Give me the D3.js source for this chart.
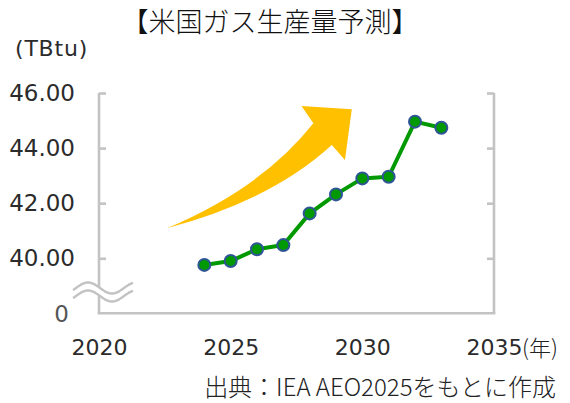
<!DOCTYPE html>
<html><head><meta charset="utf-8">
<script src="https://cdn.jsdelivr.net/npm/d3@7/dist/d3.min.js"></script>
<style>
html,body{margin:0;padding:0;background:#fff;}
svg{display:block;}
</style></head>
<body>
<script>
const years = [2024, 2025, 2026, 2027, 2028, 2029, 2030, 2031, 2032, 2033];
const production = [39.76, 39.90, 40.33, 40.48, 41.63, 42.32, 42.90, 42.96, 44.96, 44.74];
const yTicks = [40, 42, 44, 46];
const xTicks = [2020, 2025, 2030, 2035];
const title = "【米国ガス生産量予測】";
const unitLabel = "(TBtu)";
const yearUnit = "(年)";
const sourceText = "出典：IEA AEO2025をもとに作成";
// decorative arrow outline in data coordinates [year, value]
const arrowTail = [2022.57, 41.09];
const arrowUpperCtrl = [2026.20, 42.55];
const arrowUpperEnd = [2028.14, 44.90];
const arrowBarbL = [2027.69, 45.53];
const arrowTip = [2029.60, 45.41];
const arrowBarbR = [2029.34, 43.57];
const arrowInner = [2028.84, 44.11];
const arrowLowerCtrl = [2026.55, 42.10];

const W = 570, H = 403;
const svg = d3.select("body").append("svg").attr("width", W).attr("height", H);

const x = d3.scaleLinear().domain([2020, 2035]).range([99, 494]);
const y = d3.scaleLinear().domain([40, 46]).range([258.3, 93]);
const yZero = 313.3;
const axisColor = "#c3c3c3";
const textColor = "#2b2b2b";
const latin = "'DejaVu Sans', Verdana, sans-serif";
const cjk = "'Noto Sans CJK JP', sans-serif";

// title
svg.append("text").attr("x", 270).attr("y", 32).attr("text-anchor", "middle")
  .style("font-family", cjk).style("font-size", "27px").style("font-weight", 300).attr("fill", "#111").text(title);
svg.append("text").attr("x", 15).attr("y", 56)
  .style("font-family", latin).style("font-size", "22px").style("letter-spacing", "0.8px").attr("fill", textColor).text(unitLabel);

// axes frame lines
svg.append("line").attr("x1", x(2020)).attr("x2", x(2020)).attr("y1", y(46)).attr("y2", yZero)
  .attr("stroke", axisColor).attr("stroke-width", 2.6);
svg.append("line").attr("x1", x(2035)).attr("x2", x(2035)).attr("y1", y(46)).attr("y2", yZero)
  .attr("stroke", axisColor).attr("stroke-width", 2.6);
svg.append("line").attr("x1", x(2020) - 1.3).attr("x2", x(2035) + 1.3).attr("y1", yZero).attr("y2", yZero)
  .attr("stroke", axisColor).attr("stroke-width", 2.6);

// ticks (inside)
const leftTicks = svg.append("g").attr("transform", `translate(${x(2020)},0)`)
  .call(d3.axisRight(y).tickValues(yTicks).tickSize(7).tickFormat(""));
leftTicks.select(".domain").remove();
leftTicks.selectAll(".tick line").attr("stroke", axisColor).attr("stroke-width", 2.6);
const rightTicks = svg.append("g").attr("transform", `translate(${x(2035)},0)`)
  .call(d3.axisLeft(y).tickValues(yTicks).tickSize(7).tickFormat(""));
rightTicks.select(".domain").remove();
rightTicks.selectAll(".tick line").attr("stroke", axisColor).attr("stroke-width", 2.6);

// y labels
const yLab = svg.append("g").attr("transform", `translate(${x(2020)},0)`)
  .call(d3.axisLeft(y).tickValues(yTicks).tickSize(0).tickPadding(24).tickFormat(d3.format(".2f")));
yLab.select(".domain").remove();
yLab.selectAll("text").style("font-family", latin).style("font-size", "23px").attr("fill", textColor);
svg.append("text").attr("x", 69).attr("y", yZero).attr("dy", "0.36em").attr("text-anchor", "end")
  .style("font-family", latin).style("font-size", "23px").attr("fill", "#555").text("0");

// x labels
const xLab = svg.append("g").attr("transform", `translate(0,${yZero})`)
  .call(d3.axisBottom(x).tickValues(xTicks).tickSize(0).tickPadding(26).tickFormat(d3.format("d")));
xLab.select(".domain").remove();
xLab.selectAll("text").style("font-family", latin).style("font-size", "22px").attr("fill", textColor);
svg.append("text").attr("x", 522).attr("y", 356)
  .style("font-family", cjk).style("font-size", "22px").style("font-weight", 300).attr("fill", "#222").text(yearUnit);

// axis break symbol
const waveX = d3.range(73, 133.5, 1);
const wave = (dy) => waveX.map(px => [px, 288 + dy - 5.5 * Math.cos(2 * Math.PI * (px - 88) / 48)]);
const upper = wave(0), lower = wave(8);
svg.append("path").attr("d", d3.line()(upper.concat(lower.slice().reverse())) + "Z").attr("fill", "#fff");
svg.append("path").attr("d", d3.line()(upper)).attr("fill", "none").attr("stroke", axisColor).attr("stroke-width", 2.4);
svg.append("path").attr("d", d3.line()(lower)).attr("fill", "none").attr("stroke", axisColor).attr("stroke-width", 2.4);

// arrow
const P = d => [x(d[0]), y(d[1])];
const a = [arrowTail, arrowUpperCtrl, arrowUpperEnd, arrowBarbL, arrowTip, arrowBarbR, arrowInner, arrowLowerCtrl].map(P);
const ap = d3.path();
ap.moveTo(a[0][0], a[0][1]);
ap.quadraticCurveTo(a[1][0], a[1][1], a[2][0], a[2][1]);
ap.lineTo(a[3][0], a[3][1]);
ap.lineTo(a[4][0], a[4][1]);
ap.lineTo(a[5][0], a[5][1]);
ap.lineTo(a[6][0], a[6][1]);
ap.quadraticCurveTo(a[7][0], a[7][1], a[0][0], a[0][1]);
ap.closePath();
svg.append("path").attr("d", ap.toString()).attr("fill", "#FFC000");

// line + markers
const data = years.map((yr, i) => ({yr, v: production[i]}));
svg.append("path").datum(data)
  .attr("d", d3.line().x(d => x(d.yr)).y(d => y(d.v)))
  .attr("fill", "none").attr("stroke", "#009900").attr("stroke-width", 4).attr("stroke-linejoin", "round");
svg.selectAll("circle.pt").data(data).join("circle").attr("class", "pt")
  .attr("cx", d => x(d.yr)).attr("cy", d => y(d.v)).attr("r", 6)
  .attr("fill", "#009900").attr("stroke", "#2F5597").attr("stroke-width", 2);

// source
svg.append("text").attr("x", 556).attr("y", 396).attr("text-anchor", "end")
  .style("font-family", cjk).style("font-size", "24px").style("font-weight", 300).attr("fill", "#222").text(sourceText);
</script>
</body></html>
